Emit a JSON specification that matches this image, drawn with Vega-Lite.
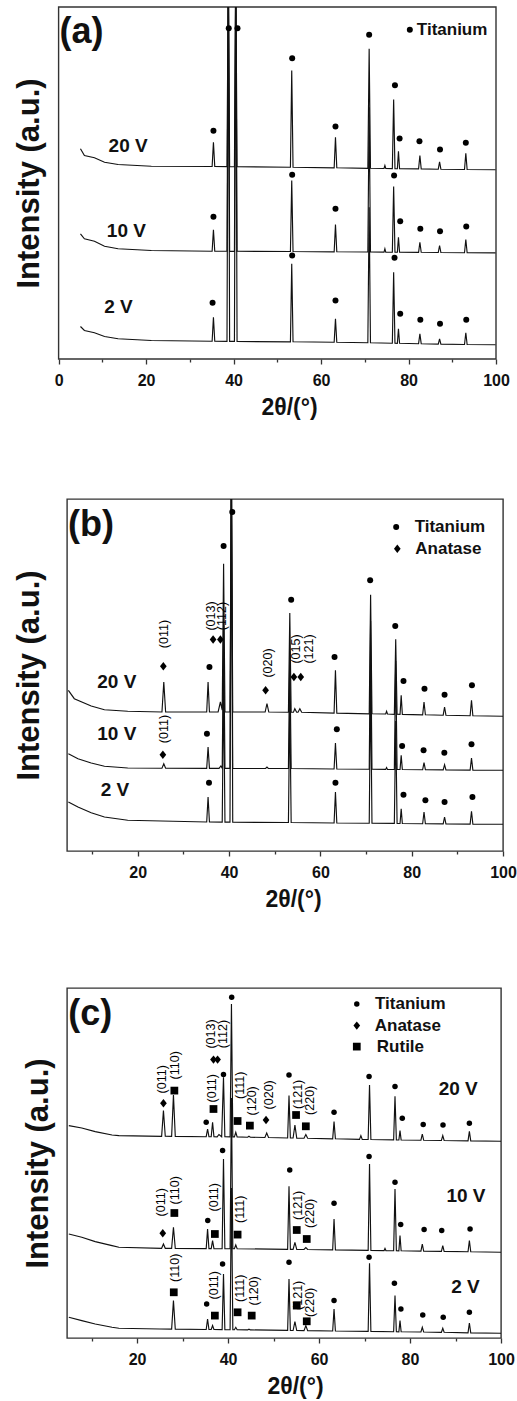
{
  "$schema": "https://vega.github.io/schema/vega-lite/v6.json",
  "padding": {"left": 12, "top": 6, "right": 5, "bottom": 5},
  "config": {
    "font": "Liberation Sans",
    "view": {"stroke": "#333", "strokeWidth": 1.4},
    "axis": {"labelFont": "Liberation Sans", "titleFont": "Liberation Sans"}
  },
  "datasets": {
    "A_line": [
      {"s":"20","x":5,"y":210.2},{"s":"20","x":5.9,"y":203.5},{"s":"20","x":8.2,"y":201.2},{"s":"20","x":10.5,"y":196.8},{"s":"20","x":13.6,"y":194.5},{"s":"20","x":21.2,"y":192.8},
      {"s":"20","x":35.1,"y":192.5},{"s":"20","x":35.4,"y":216.8},{"s":"20","x":35.7,"y":192.5},
      {"s":"20","x":38.5,"y":192.4},{"s":"20","x":38.8,"y":400},{"s":"20","x":39.1,"y":192.3},
      {"s":"20","x":40.2,"y":192.3},{"s":"20","x":40.5,"y":400},{"s":"20","x":40.8,"y":192.3},
      {"s":"20","x":53.0,"y":191.8},{"s":"20","x":53.3,"y":288.5},{"s":"20","x":53.6,"y":191.8},
      {"s":"20","x":63.0,"y":191.2},{"s":"20","x":63.3,"y":221.8},{"s":"20","x":63.6,"y":191.2},
      {"s":"20","x":70.7,"y":190.7},{"s":"20","x":71.0,"y":310.2},{"s":"20","x":71.3,"y":190.7},
      {"s":"20","x":74.4,"y":190.5},{"s":"20","x":74.6,"y":193.5},{"s":"20","x":74.8,"y":190.5},
      {"s":"20","x":76.3,"y":190.4},{"s":"20","x":76.6,"y":259.5},{"s":"20","x":76.9,"y":190.4},
      {"s":"20","x":77.45,"y":190.3},{"s":"20","x":77.7,"y":207.8},{"s":"20","x":77.95,"y":190.3},
      {"s":"20","x":82.3,"y":190.1},{"s":"20","x":82.6,"y":203.5},{"s":"20","x":82.9,"y":190.1},
      {"s":"20","x":86.8,"y":189.8},{"s":"20","x":87.1,"y":197.2},{"s":"20","x":87.4,"y":189.8},
      {"s":"20","x":92.8,"y":189.5},{"s":"20","x":93.1,"y":205.8},{"s":"20","x":93.4,"y":189.5},
      {"s":"20","x":99.9,"y":189.2},

      {"s":"10","x":5,"y":125.2},{"s":"10","x":5.9,"y":120.2},{"s":"10","x":8.2,"y":117.8},{"s":"10","x":10.5,"y":112.8},{"s":"10","x":13.6,"y":110.2},{"s":"10","x":21.2,"y":108.5},
      {"s":"10","x":35.1,"y":107.8},{"s":"10","x":35.4,"y":129.2},{"s":"10","x":35.7,"y":107.8},
      {"s":"10","x":38.5,"y":107.8},{"s":"10","x":38.8,"y":400},{"s":"10","x":39.1,"y":107.7},
      {"s":"10","x":40.2,"y":107.7},{"s":"10","x":40.5,"y":400},{"s":"10","x":40.8,"y":107.7},
      {"s":"10","x":53.0,"y":107.5},{"s":"10","x":53.3,"y":178.5},{"s":"10","x":53.6,"y":107.5},
      {"s":"10","x":63.0,"y":107.2},{"s":"10","x":63.3,"y":134.5},{"s":"10","x":63.6,"y":107.2},
      {"s":"10","x":70.7,"y":107},{"s":"10","x":71.0,"y":251.8},{"s":"10","x":71.3,"y":107},
      {"s":"10","x":74.4,"y":106.9},{"s":"10","x":74.6,"y":110.2},{"s":"10","x":74.8,"y":106.9},
      {"s":"10","x":76.3,"y":106.8},{"s":"10","x":76.6,"y":172.5},{"s":"10","x":76.9,"y":106.8},
      {"s":"10","x":77.45,"y":106.8},{"s":"10","x":77.7,"y":121.8},{"s":"10","x":77.95,"y":106.8},
      {"s":"10","x":82.3,"y":106.7},{"s":"10","x":82.6,"y":116.8},{"s":"10","x":82.9,"y":106.7},
      {"s":"10","x":86.8,"y":106.5},{"s":"10","x":87.1,"y":113.5},{"s":"10","x":87.4,"y":106.5},
      {"s":"10","x":92.8,"y":106.3},{"s":"10","x":93.1,"y":119.5},{"s":"10","x":93.4,"y":106.3},
      {"s":"10","x":99.9,"y":106.2},

      {"s":"2","x":5,"y":32.5},{"s":"2","x":5.9,"y":28.5},{"s":"2","x":8.2,"y":26.2},{"s":"2","x":10.5,"y":22.5},{"s":"2","x":13.6,"y":20.2},{"s":"2","x":21.2,"y":18.5},
      {"s":"2","x":35.1,"y":17.8},{"s":"2","x":35.4,"y":41.8},{"s":"2","x":35.7,"y":17.8},
      {"s":"2","x":38.5,"y":17.7},{"s":"2","x":38.8,"y":400},{"s":"2","x":39.1,"y":17.6},
      {"s":"2","x":40.2,"y":17.6},{"s":"2","x":40.5,"y":400},{"s":"2","x":40.8,"y":17.5},
      {"s":"2","x":53.0,"y":17.2},{"s":"2","x":53.3,"y":95.2},{"s":"2","x":53.6,"y":17.2},
      {"s":"2","x":63.0,"y":16.8},{"s":"2","x":63.3,"y":40.2},{"s":"2","x":63.6,"y":16.8},
      {"s":"2","x":70.7,"y":16.3},{"s":"2","x":71.0,"y":151.8},{"s":"2","x":71.3,"y":16.3},
      {"s":"2","x":76.3,"y":15.8},{"s":"2","x":76.6,"y":86.8},{"s":"2","x":76.9,"y":15.8},
      {"s":"2","x":77.45,"y":15.7},{"s":"2","x":77.7,"y":30.2},{"s":"2","x":77.95,"y":15.7},
      {"s":"2","x":82.3,"y":15.3},{"s":"2","x":82.6,"y":25.2},{"s":"2","x":82.9,"y":15.3},
      {"s":"2","x":86.8,"y":14.9},{"s":"2","x":87.1,"y":20.2},{"s":"2","x":87.4,"y":14.9},
      {"s":"2","x":92.8,"y":14.5},{"s":"2","x":93.1,"y":26.2},{"s":"2","x":93.4,"y":14.5},
      {"s":"2","x":99.9,"y":14.2}
    ],
    "A_mark": [
      {"t":"o","x":35.4,"y":228.2},{"t":"o","x":38.9,"y":330.8},{"t":"o","x":40.9,"y":330.8},{"t":"o","x":53.4,"y":300.8},{"t":"o","x":63.3,"y":232.5},{"t":"o","x":71.0,"y":324.2},{"t":"o","x":76.9,"y":273.8},{"t":"o","x":77.96,"y":220.5},{"t":"o","x":82.5,"y":217.8},{"t":"o","x":87.2,"y":209.5},{"t":"o","x":93.1,"y":216.2},
      {"t":"o","x":35.4,"y":142.2},{"t":"o","x":53.4,"y":184.2},{"t":"o","x":63.3,"y":150.2},{"t":"o","x":76.7,"y":183.5},{"t":"o","x":78.1,"y":137.8},{"t":"o","x":82.7,"y":130.2},{"t":"o","x":87.2,"y":127.8},{"t":"o","x":93.2,"y":132.5},
      {"t":"o","x":35.2,"y":56.2},{"t":"o","x":53.4,"y":103.5},{"t":"o","x":63.3,"y":58.5},{"t":"o","x":76.8,"y":101.2},{"t":"o","x":78.1,"y":45.2},{"t":"o","x":82.7,"y":39.2},{"t":"o","x":87.2,"y":35.2},{"t":"o","x":93.2,"y":39.2},
      {"t":"o","x":80.3,"y":329.2}
    ],
    "A_text": [
      {"g":"v","x":15.9,"y":213.5,"l":"20 V"},{"g":"v","x":15.5,"y":128.5,"l":"10 V"},{"g":"v","x":13.7,"y":51.8,"l":"2 V"},
      {"g":"p","x":0.2,"y":327.5,"l":"(a)"},
      {"g":"l","x":81.9,"y":329.2,"l":"Titanium"}
    ],
    "A_frame": [{"x":0,"x2":100,"y":0,"y2":352}],
    "B_line": [
      {"s":"20","x":4.8,"y":160.7},{"s":"20","x":6.1,"y":152.3},{"s":"20","x":9.8,"y":145},{"s":"20","x":12.7,"y":141.3},{"s":"20","x":17.8,"y":139.7},
      {"s":"20","x":25.3,"y":139},{"s":"20","x":25.7,"y":169},{"s":"20","x":26.1,"y":139},
      {"s":"20","x":35.1,"y":139},{"s":"20","x":35.4,"y":169},{"s":"20","x":35.7,"y":139},
      {"s":"20","x":37.6,"y":139},{"s":"20","x":38.1,"y":149},{"s":"20","x":38.5,"y":141},{"s":"20","x":38.8,"y":287.3},{"s":"20","x":39.1,"y":139},
      {"s":"20","x":40.2,"y":139},{"s":"20","x":40.5,"y":400},{"s":"20","x":40.8,"y":139},
      {"s":"20","x":47.9,"y":139},{"s":"20","x":48.3,"y":147.3},{"s":"20","x":48.7,"y":139},
      {"s":"20","x":53.0,"y":138.8},{"s":"20","x":53.3,"y":238},{"s":"20","x":53.6,"y":138.8},
      {"s":"20","x":54.1,"y":138.8},{"s":"20","x":54.4,"y":142.3},{"s":"20","x":54.8,"y":138.8},{"s":"20","x":55.1,"y":138.8},{"s":"20","x":55.5,"y":142.3},{"s":"20","x":55.9,"y":138.7},
      {"s":"20","x":63.0,"y":137.9},{"s":"20","x":63.3,"y":180.7},{"s":"20","x":63.6,"y":137.9},
      {"s":"20","x":70.7,"y":137.2},{"s":"20","x":71.0,"y":256.3},{"s":"20","x":71.3,"y":137.2},
      {"s":"20","x":74.3,"y":137},{"s":"20","x":74.5,"y":139.7},{"s":"20","x":74.7,"y":137},
      {"s":"20","x":76.2,"y":136.7},{"s":"20","x":76.5,"y":211.7},{"s":"20","x":76.8,"y":136.7},
      {"s":"20","x":77.45,"y":136.6},{"s":"20","x":77.7,"y":155.7},{"s":"20","x":77.95,"y":136.6},
      {"s":"20","x":82.4,"y":136.2},{"s":"20","x":82.7,"y":149},{"s":"20","x":83.0,"y":136.2},
      {"s":"20","x":86.9,"y":135.8},{"s":"20","x":87.2,"y":144},{"s":"20","x":87.5,"y":135.8},
      {"s":"20","x":92.8,"y":135.3},{"s":"20","x":93.1,"y":150.7},{"s":"20","x":93.4,"y":135.3},
      {"s":"20","x":100,"y":134.7},

      {"s":"10","x":4.8,"y":97.3},{"s":"10","x":6.9,"y":92.3},{"s":"10","x":9.8,"y":88},{"s":"10","x":12.7,"y":84.7},{"s":"10","x":17.8,"y":83},
      {"s":"10","x":25.3,"y":82.8},{"s":"10","x":25.7,"y":87.3},{"s":"10","x":26.1,"y":82.8},
      {"s":"10","x":35.1,"y":82.7},{"s":"10","x":35.4,"y":104},{"s":"10","x":35.7,"y":82.7},
      {"s":"10","x":37.8,"y":82.7},{"s":"10","x":38.2,"y":85},{"s":"10","x":38.5,"y":82.7},{"s":"10","x":38.8,"y":225},{"s":"10","x":39.1,"y":82.6},
      {"s":"10","x":40.2,"y":82.6},{"s":"10","x":40.5,"y":400},{"s":"10","x":40.8,"y":82.6},
      {"s":"10","x":48.0,"y":82.5},{"s":"10","x":48.3,"y":84},{"s":"10","x":48.6,"y":82.5},
      {"s":"10","x":53.0,"y":82.5},{"s":"10","x":53.3,"y":200},{"s":"10","x":53.6,"y":82.5},
      {"s":"10","x":63.0,"y":82.0},{"s":"10","x":63.3,"y":108},{"s":"10","x":63.6,"y":82.0},
      {"s":"10","x":70.7,"y":81.8},{"s":"10","x":71.0,"y":230},{"s":"10","x":71.3,"y":81.8},
      {"s":"10","x":74.3,"y":81.6},{"s":"10","x":74.5,"y":83.5},{"s":"10","x":74.7,"y":81.6},
      {"s":"10","x":76.2,"y":81.5},{"s":"10","x":76.5,"y":190},{"s":"10","x":76.8,"y":81.5},
      {"s":"10","x":77.45,"y":81.5},{"s":"10","x":77.7,"y":95.7},{"s":"10","x":77.95,"y":81.5},
      {"s":"10","x":82.4,"y":81.3},{"s":"10","x":82.7,"y":88.3},{"s":"10","x":83.0,"y":81.3},
      {"s":"10","x":86.9,"y":81.1},{"s":"10","x":87.2,"y":86.3},{"s":"10","x":87.5,"y":81.1},
      {"s":"10","x":92.8,"y":80.9},{"s":"10","x":93.1,"y":93},{"s":"10","x":93.4,"y":80.9},
      {"s":"10","x":100,"y":80.7},

      {"s":"2","x":4.8,"y":49},{"s":"2","x":6.9,"y":44},{"s":"2","x":9.8,"y":38.3},{"s":"2","x":12.7,"y":34},{"s":"2","x":17.8,"y":30.7},
      {"s":"2","x":35.1,"y":29},{"s":"2","x":35.4,"y":54},{"s":"2","x":35.7,"y":29},
      {"s":"2","x":38.5,"y":28.9},{"s":"2","x":38.8,"y":170},{"s":"2","x":39.1,"y":28.9},
      {"s":"2","x":40.2,"y":28.9},{"s":"2","x":40.5,"y":400},{"s":"2","x":40.8,"y":28.8},
      {"s":"2","x":53.0,"y":28.5},{"s":"2","x":53.3,"y":150},{"s":"2","x":53.6,"y":28.5},
      {"s":"2","x":63.0,"y":28.0},{"s":"2","x":63.3,"y":59},{"s":"2","x":63.6,"y":28.0},
      {"s":"2","x":70.7,"y":27.8},{"s":"2","x":71.0,"y":170},{"s":"2","x":71.3,"y":27.8},
      {"s":"2","x":76.2,"y":27.6},{"s":"2","x":76.5,"y":130},{"s":"2","x":76.8,"y":27.6},
      {"s":"2","x":77.45,"y":27.5},{"s":"2","x":77.7,"y":42.3},{"s":"2","x":77.95,"y":27.5},
      {"s":"2","x":82.4,"y":27.3},{"s":"2","x":82.7,"y":39},{"s":"2","x":83.0,"y":27.3},
      {"s":"2","x":86.9,"y":27.1},{"s":"2","x":87.2,"y":34},{"s":"2","x":87.5,"y":27.1},
      {"s":"2","x":92.8,"y":26.9},{"s":"2","x":93.1,"y":39.7},{"s":"2","x":93.4,"y":26.9},
      {"s":"2","x":100,"y":26.7}
    ],
    "B_mark": [
      {"t":"o","x":35.7,"y":184},{"t":"o","x":38.8,"y":305},{"t":"o","x":40.7,"y":339},{"t":"o","x":53.6,"y":251.3},{"t":"o","x":63.1,"y":194},{"t":"o","x":70.9,"y":270.7},{"t":"o","x":76.4,"y":225},{"t":"o","x":78.2,"y":170},{"t":"o","x":82.8,"y":162.3},{"t":"o","x":87.2,"y":156.3},{"t":"o","x":93.2,"y":165.7},
      {"t":"d","x":25.6,"y":184.7},{"t":"d","x":36.5,"y":211.5},{"t":"d","x":38.1,"y":211.5},{"t":"d","x":48.0,"y":160.7},{"t":"d","x":54.2,"y":174},{"t":"d","x":55.7,"y":174},
      {"t":"o","x":35.15,"y":117.3},{"t":"o","x":63.6,"y":121.7},{"t":"o","x":77.9,"y":105},{"t":"o","x":82.6,"y":100.7},{"t":"o","x":87.15,"y":98.3},{"t":"o","x":93.1,"y":106.7},
      {"t":"d","x":25.5,"y":96.3},
      {"t":"o","x":35.6,"y":68.3},{"t":"o","x":63.3,"y":68.3},{"t":"o","x":78.2,"y":56.3},{"t":"o","x":83.0,"y":50.7},{"t":"o","x":87.2,"y":49},{"t":"o","x":93.3,"y":54},
      {"t":"o","x":76.6,"y":324},{"t":"d","x":76.85,"y":302.3}
    ],
    "B_text": [
      {"g":"v","x":15.4,"y":169,"l":"20 V"},{"g":"v","x":15.4,"y":117.3,"l":"10 V"},{"g":"v","x":15.0,"y":60.7,"l":"2 V"},
      {"g":"p","x":4.7,"y":326,"l":"(b)"},
      {"g":"l","x":80.65,"y":324,"l":"Titanium"},{"g":"l","x":80.8,"y":302.3,"l":"Anatase"},
      {"g":"h","x":25.7,"y":217,"l":"(011)"},{"g":"h","x":35.95,"y":235,"l":"(013)"},{"g":"h","x":38.45,"y":235,"l":"(112)"},{"g":"h","x":48.5,"y":188,"l":"(020)"},{"g":"h","x":54.6,"y":202,"l":"(015)"},{"g":"h","x":57.5,"y":202,"l":"(121)"},{"g":"h","x":25.8,"y":122,"l":"(011)"}
    ],
    "C_line": [
      {"s":"20","x":5.0,"y":212.4},{"s":"20","x":7.85,"y":210},{"s":"20","x":10.8,"y":206.4},{"s":"20","x":14.5,"y":203},{"s":"20","x":16,"y":202.4},
      {"s":"20","x":25.4,"y":201.7},{"s":"20","x":25.8,"y":227.4},{"s":"20","x":26.2,"y":201.7},
      {"s":"20","x":27.6,"y":201.6},{"s":"20","x":28.0,"y":243},{"s":"20","x":28.4,"y":201.6},
      {"s":"20","x":35.2,"y":201.3},{"s":"20","x":35.5,"y":209},{"s":"20","x":35.8,"y":201.3},
      {"s":"20","x":36.3,"y":201.3},{"s":"20","x":36.6,"y":215.7},{"s":"20","x":36.9,"y":201.3},
      {"s":"20","x":37.6,"y":201.2},{"s":"20","x":38.0,"y":203.5},{"s":"20","x":38.6,"y":201.2},{"s":"20","x":39.0,"y":260.7},{"s":"20","x":39.3,"y":201.2},
      {"s":"20","x":40.45,"y":201.1},{"s":"20","x":40.75,"y":334},{"s":"20","x":41.05,"y":201.1},
      {"s":"20","x":41.4,"y":201.1},{"s":"20","x":41.7,"y":205.7},{"s":"20","x":42.0,"y":201.1},
      {"s":"20","x":44.3,"y":200.8},{"s":"20","x":44.6,"y":201.8},{"s":"20","x":44.9,"y":200.8},
      {"s":"20","x":48.1,"y":200.5},{"s":"20","x":48.5,"y":205},{"s":"20","x":48.9,"y":200.5},
      {"s":"20","x":53.1,"y":200},{"s":"20","x":53.4,"y":242.4},{"s":"20","x":53.7,"y":200},
      {"s":"20","x":54.3,"y":200},{"s":"20","x":54.7,"y":213},{"s":"20","x":55.1,"y":199.9},
      {"s":"20","x":56.7,"y":199.8},{"s":"20","x":57.1,"y":203.4},{"s":"20","x":57.5,"y":199.7},
      {"s":"20","x":63.0,"y":199.2},{"s":"20","x":63.3,"y":216.4},{"s":"20","x":63.6,"y":199.2},
      {"s":"20","x":68.9,"y":198.6},{"s":"20","x":69.2,"y":202.4},{"s":"20","x":69.5,"y":198.6},
      {"s":"20","x":70.8,"y":198.5},{"s":"20","x":71.1,"y":253},{"s":"20","x":71.4,"y":198.5},
      {"s":"20","x":76.4,"y":198.1},{"s":"20","x":76.7,"y":241.7},{"s":"20","x":77.0,"y":198.1},
      {"s":"20","x":77.55,"y":198},{"s":"20","x":77.8,"y":207.4},{"s":"20","x":78.05,"y":198},
      {"s":"20","x":82.4,"y":197.8},{"s":"20","x":82.7,"y":204},{"s":"20","x":83.0,"y":197.8},
      {"s":"20","x":86.9,"y":197.5},{"s":"20","x":87.2,"y":202.4},{"s":"20","x":87.5,"y":197.5},
      {"s":"20","x":92.75,"y":197.1},{"s":"20","x":93.05,"y":206.7},{"s":"20","x":93.35,"y":197.1},
      {"s":"20","x":100,"y":196.7},

      {"s":"10","x":5.0,"y":104},{"s":"10","x":7.85,"y":100.7},{"s":"10","x":10.8,"y":96.4},{"s":"10","x":14.5,"y":92.4},{"s":"10","x":16,"y":90.7},
      {"s":"10","x":25.4,"y":89.7},{"s":"10","x":25.8,"y":94},{"s":"10","x":26.2,"y":89.7},
      {"s":"10","x":27.6,"y":89.7},{"s":"10","x":28.0,"y":110.7},{"s":"10","x":28.4,"y":89.6},
      {"s":"10","x":35.2,"y":89.4},{"s":"10","x":35.5,"y":109},{"s":"10","x":35.8,"y":89.4},
      {"s":"10","x":36.3,"y":89.4},{"s":"10","x":36.6,"y":97.4},{"s":"10","x":36.9,"y":89.4},
      {"s":"10","x":38.7,"y":89.3},{"s":"10","x":39.0,"y":179},{"s":"10","x":39.3,"y":89.3},
      {"s":"10","x":40.45,"y":89.3},{"s":"10","x":40.75,"y":240},{"s":"10","x":41.05,"y":89.3},
      {"s":"10","x":41.4,"y":89.3},{"s":"10","x":41.7,"y":93},{"s":"10","x":42.0,"y":89.3},
      {"s":"10","x":53.1,"y":88.6},{"s":"10","x":53.4,"y":151.7},{"s":"10","x":53.7,"y":88.6},
      {"s":"10","x":54.3,"y":88.6},{"s":"10","x":54.7,"y":95.7},{"s":"10","x":55.1,"y":88.6},
      {"s":"10","x":56.7,"y":88.5},{"s":"10","x":57.1,"y":90.5},{"s":"10","x":57.5,"y":88.5},
      {"s":"10","x":63.0,"y":88.1},{"s":"10","x":63.3,"y":119},{"s":"10","x":63.6,"y":88.1},
      {"s":"10","x":70.8,"y":87.6},{"s":"10","x":71.1,"y":174},{"s":"10","x":71.4,"y":87.6},
      {"s":"10","x":74.3,"y":87.4},{"s":"10","x":74.5,"y":89.5},{"s":"10","x":74.7,"y":87.4},
      {"s":"10","x":76.4,"y":87.3},{"s":"10","x":76.7,"y":149},{"s":"10","x":77.0,"y":87.3},
      {"s":"10","x":77.55,"y":87.2},{"s":"10","x":77.8,"y":102.4},{"s":"10","x":78.05,"y":87.2},
      {"s":"10","x":82.4,"y":86.9},{"s":"10","x":82.7,"y":94},{"s":"10","x":83.0,"y":86.9},
      {"s":"10","x":86.9,"y":86.6},{"s":"10","x":87.2,"y":92.4},{"s":"10","x":87.5,"y":86.6},
      {"s":"10","x":92.75,"y":86.3},{"s":"10","x":93.05,"y":97.4},{"s":"10","x":93.35,"y":86.3},
      {"s":"10","x":100,"y":85.7},

      {"s":"2","x":5.0,"y":20.7},{"s":"2","x":7.85,"y":17.4},{"s":"2","x":10.8,"y":14},{"s":"2","x":14.5,"y":10.7},{"s":"2","x":16,"y":9.7},{"s":"2","x":25,"y":9},
      {"s":"2","x":27.6,"y":8.9},{"s":"2","x":28.0,"y":37.4},{"s":"2","x":28.4,"y":8.9},
      {"s":"2","x":35.2,"y":8.5},{"s":"2","x":35.5,"y":19},{"s":"2","x":35.8,"y":8.5},
      {"s":"2","x":36.3,"y":8.5},{"s":"2","x":36.6,"y":12.4},{"s":"2","x":36.9,"y":8.5},
      {"s":"2","x":38.7,"y":8.4},{"s":"2","x":39.0,"y":64},{"s":"2","x":39.3,"y":8.4},
      {"s":"2","x":40.45,"y":8.3},{"s":"2","x":40.75,"y":150},{"s":"2","x":41.05,"y":8.3},
      {"s":"2","x":41.4,"y":8.3},{"s":"2","x":41.7,"y":10.7},{"s":"2","x":42.0,"y":8.3},
      {"s":"2","x":44.3,"y":8.1},{"s":"2","x":44.6,"y":8.8},{"s":"2","x":44.9,"y":8.1},
      {"s":"2","x":53.1,"y":7.6},{"s":"2","x":53.4,"y":59},{"s":"2","x":53.7,"y":7.6},
      {"s":"2","x":54.3,"y":7.5},{"s":"2","x":54.7,"y":16.4},{"s":"2","x":55.1,"y":7.5},
      {"s":"2","x":56.7,"y":7.4},{"s":"2","x":57.1,"y":12.4},{"s":"2","x":57.5,"y":7.4},
      {"s":"2","x":63.0,"y":7},{"s":"2","x":63.3,"y":29},{"s":"2","x":63.6,"y":7},
      {"s":"2","x":70.8,"y":6.6},{"s":"2","x":71.1,"y":74.7},{"s":"2","x":71.4,"y":6.6},
      {"s":"2","x":76.4,"y":6.3},{"s":"2","x":76.7,"y":42.4},{"s":"2","x":77.0,"y":6.3},
      {"s":"2","x":77.55,"y":6.2},{"s":"2","x":77.8,"y":17.4},{"s":"2","x":78.05,"y":6.2},
      {"s":"2","x":82.4,"y":6},{"s":"2","x":82.7,"y":10.7},{"s":"2","x":83.0,"y":6},
      {"s":"2","x":86.9,"y":5.7},{"s":"2","x":87.2,"y":9.7},{"s":"2","x":87.5,"y":5.7},
      {"s":"2","x":92.75,"y":5.1},{"s":"2","x":93.05,"y":15},{"s":"2","x":93.35,"y":5.1},
      {"s":"2","x":100,"y":4.7}
    ],
    "C_mark": [
      {"t":"o","x":35.2,"y":215.7},{"t":"o","x":39.0,"y":263.4},{"t":"o","x":40.8,"y":340.7},{"t":"o","x":53.4,"y":263},{"t":"o","x":63.3,"y":225.7},{"t":"o","x":71.0,"y":261.4},{"t":"o","x":76.7,"y":251.4},{"t":"o","x":78.3,"y":219.7},{"t":"o","x":82.9,"y":213.4},{"t":"o","x":87.25,"y":213},{"t":"o","x":93.05,"y":214.7},
      {"t":"d","x":25.8,"y":234.7},{"t":"d","x":36.8,"y":278.4},{"t":"d","x":37.7,"y":278.4},{"t":"d","x":48.35,"y":218},
      {"t":"q","x":28.2,"y":247.4},{"t":"q","x":36.8,"y":229},{"t":"q","x":42.1,"y":217},{"t":"q","x":44.8,"y":212.4},{"t":"q","x":54.95,"y":223},{"t":"q","x":57.1,"y":211.7},
      {"t":"o","x":35.54,"y":117.4},{"t":"o","x":38.8,"y":187.4},{"t":"o","x":53.56,"y":168},{"t":"o","x":63.3,"y":134.7},{"t":"o","x":71.0,"y":181.4},{"t":"o","x":76.7,"y":155.7},{"t":"o","x":77.95,"y":113.4},{"t":"o","x":83.1,"y":108.4},{"t":"o","x":86.97,"y":107.4},{"t":"o","x":93.2,"y":109},
      {"t":"d","x":25.65,"y":104.7},
      {"t":"q","x":28.2,"y":125},{"t":"q","x":37.1,"y":104},{"t":"q","x":42.1,"y":103.4},{"t":"q","x":55.1,"y":108},{"t":"q","x":57.3,"y":99},
      {"t":"o","x":35.3,"y":34},{"t":"o","x":38.8,"y":74},{"t":"o","x":53.4,"y":75.7},{"t":"o","x":63.3,"y":37.4},{"t":"o","x":71.0,"y":80.7},{"t":"o","x":76.57,"y":54.7},{"t":"o","x":78.0,"y":29},{"t":"o","x":82.8,"y":23},{"t":"o","x":87.3,"y":20.7},{"t":"o","x":93.05,"y":25.7},
      {"t":"q","x":28.07,"y":45.7},{"t":"q","x":37.1,"y":22.4},{"t":"q","x":42.1,"y":25.7},{"t":"q","x":45.2,"y":22.4},{"t":"q","x":55.1,"y":32.4},{"t":"q","x":57.3,"y":16.7},
      {"t":"o","x":68.3,"y":334},{"t":"d","x":68.3,"y":312.4},{"t":"q","x":68.3,"y":291.4}
    ],
    "C_text": [
      {"g":"v","x":90.6,"y":249,"l":"20 V"},{"g":"v","x":92.3,"y":142.4,"l":"10 V"},{"g":"v","x":92.2,"y":50.7,"l":"2 V"},
      {"g":"p","x":4.9,"y":323.7,"l":"(c)"},
      {"g":"l","x":72.3,"y":334,"l":"Titanium"},{"g":"l","x":72.25,"y":312.4,"l":"Anatase"},{"g":"l","x":72.7,"y":291.4,"l":"Rutile"},
      {"g":"h","x":25.4,"y":258.7,"l":"(011)"},{"g":"h","x":28.4,"y":272.7,"l":"(110)"},{"g":"h","x":36.4,"y":249.7,"l":"(011)"},{"g":"h","x":36.3,"y":304,"l":"(013)"},{"g":"h","x":39.0,"y":304,"l":"(112)"},{"g":"h","x":42.6,"y":252.7,"l":"(111)"},{"g":"h","x":45.2,"y":237.2,"l":"(120)"},{"g":"h","x":48.9,"y":243.2,"l":"(020)"},{"g":"h","x":55.3,"y":243.7,"l":"(121)"},{"g":"h","x":57.95,"y":237.7,"l":"(220)"},
      {"g":"h","x":25.2,"y":135.7,"l":"(011)"},{"g":"h","x":28.35,"y":147.7,"l":"(110)"},{"g":"h","x":37.0,"y":140.7,"l":"(011)"},{"g":"h","x":42.6,"y":128.7,"l":"(111)"},{"g":"h","x":55.3,"y":132.7,"l":"(121)"},{"g":"h","x":58.0,"y":124.7,"l":"(220)"},
      {"g":"h","x":28.35,"y":70.2,"l":"(110)"},{"g":"h","x":36.9,"y":52.7,"l":"(011)"},{"g":"h","x":42.6,"y":49.7,"l":"(111)"},{"g":"h","x":45.6,"y":47.2,"l":"(120)"},{"g":"h","x":55.3,"y":42.7,"l":"(121)"},{"g":"h","x":58.0,"y":35.7,"l":"(220)"}
    ]
  },
  "concat": [
    {
      "width": 429, "height": 352,
      "view": {"stroke": null},
      "encoding": {
        "x": {"field": "x", "type": "quantitative", "scale": {"domain": [0, 100], "range": [-8.4, 429], "nice": false, "zero": false},
          "axis": {"values": [0,10,20,30,40,50,60,70,80,90,100], "labelExpr": "datum.value % 20 === 0 ? datum.label : ''",
            "tickSize": {"condition": {"test": "datum.value % 20 === 0", "value": 5}, "value": 3},
            "tickColor": "#333", "tickWidth": 1.3, "domain": false, "grid": false, "labelFontSize": 16, "labelFontWeight": "bold", "labelColor": "#111", "labelPadding": 8, "labelFlush": false,
            "title": "2θ/(°)", "titleFontSize": 23, "titleFontWeight": "bold", "titleColor": "#111", "titlePadding": 8, "titleX": 222}},
        "y": {"field": "y", "type": "quantitative", "scale": {"domain": [0, 352], "nice": false, "zero": false},
          "axis": {"title": "Intensity (a.u.)", "labels": false, "ticks": false, "domain": false, "grid": false, "titleFontSize": 31, "titleFontWeight": "bold", "titleColor": "#111", "titlePadding": 21.7}}
      },
      "layer": [
        {"data": {"name": "A_frame"}, "mark": {"type": "rect", "filled": false, "stroke": "#333", "strokeWidth": 1.4, "clip": false}, "encoding": {"x2": {"field": "x2"}, "y2": {"field": "y2"}}},
        {"data": {"name": "A_line"}, "mark": {"type": "line", "clip": true, "color": "#111", "strokeWidth": 1.15}, "encoding": {"detail": {"field": "s"}}},
        {"data": {"name": "A_mark"}, "transform": [{"filter": "datum.t === 'o'"}], "mark": {"type": "point", "shape": "circle", "filled": true, "size": 36, "color": "#000", "opacity": 1}},
        {"data": {"name": "A_text"}, "transform": [{"filter": "datum.g === 'v'"}], "mark": {"type": "text", "fontSize": 19, "fontWeight": "bold", "align": "center", "baseline": "middle", "color": "#111"}, "encoding": {"text": {"field": "l"}}},
        {"data": {"name": "A_text"}, "transform": [{"filter": "datum.g === 'p'"}], "mark": {"type": "text", "fontSize": 36, "fontWeight": "bold", "align": "left", "baseline": "middle", "color": "#111"}, "encoding": {"text": {"field": "l"}}},
        {"data": {"name": "A_text"}, "transform": [{"filter": "datum.g === 'l'"}], "mark": {"type": "text", "fontSize": 17, "fontWeight": "bold", "align": "left", "baseline": "middle", "color": "#111"}, "encoding": {"text": {"field": "l"}}}
      ]
    },
    {
      "concat": [
        {
          "width": 436, "height": 352,
          "encoding": {
            "x": {"field": "x", "type": "quantitative", "scale": {"domain": [4.5, 100], "nice": false, "zero": false},
              "axis": {"values": [10,20,30,40,50,60,70,80,90,100], "labelExpr": "datum.value % 20 === 0 ? datum.label : ''",
                "tickSize": {"condition": {"test": "datum.value % 20 === 0", "value": 5}, "value": 3},
                "tickColor": "#333", "tickWidth": 1.3, "domain": false, "grid": false, "labelFontSize": 16, "labelFontWeight": "bold", "labelColor": "#111", "labelPadding": 8, "labelFlush": false,
                "title": "2θ/(°)", "titleFontSize": 23, "titleFontWeight": "bold", "titleColor": "#111", "titlePadding": 8, "titleX": 226}},
            "y": {"field": "y", "type": "quantitative", "scale": {"domain": [0, 352], "nice": false, "zero": false},
              "axis": {"title": "Intensity (a.u.)", "labels": false, "ticks": false, "domain": false, "grid": false, "titleFontSize": 31, "titleFontWeight": "bold", "titleColor": "#111", "titlePadding": 21.7}}
          },
          "layer": [
            {"data": {"name": "B_line"}, "mark": {"type": "line", "clip": true, "color": "#111", "strokeWidth": 1.15}, "encoding": {"detail": {"field": "s"}}},
            {"data": {"name": "B_mark"}, "transform": [{"filter": "datum.t === 'o'"}], "mark": {"type": "point", "shape": "circle", "filled": true, "size": 36, "color": "#000", "opacity": 1}},
            {"data": {"name": "B_mark"}, "transform": [{"filter": "datum.t === 'd'"}], "mark": {"type": "point", "shape": "M0,-1L0.8,0L0,1L-0.8,0Z", "filled": true, "size": 70, "color": "#000", "opacity": 1}},
            {"data": {"name": "B_text"}, "transform": [{"filter": "datum.g === 'v'"}], "mark": {"type": "text", "fontSize": 19, "fontWeight": "bold", "align": "center", "baseline": "middle", "color": "#111"}, "encoding": {"text": {"field": "l"}}},
            {"data": {"name": "B_text"}, "transform": [{"filter": "datum.g === 'p'"}], "mark": {"type": "text", "fontSize": 36, "fontWeight": "bold", "align": "left", "baseline": "middle", "color": "#111"}, "encoding": {"text": {"field": "l"}}},
            {"data": {"name": "B_text"}, "transform": [{"filter": "datum.g === 'l'"}], "mark": {"type": "text", "fontSize": 17, "fontWeight": "bold", "align": "left", "baseline": "middle", "color": "#111"}, "encoding": {"text": {"field": "l"}}},
            {"data": {"name": "B_text"}, "transform": [{"filter": "datum.g === 'h'"}], "mark": {"type": "text", "fontSize": 12.5, "angle": 270, "align": "center", "baseline": "middle", "color": "#000"}, "encoding": {"text": {"field": "l"}}}
          ]
        },
        {
          "width": 434, "height": 350,
          "encoding": {
            "x": {"field": "x", "type": "quantitative", "scale": {"domain": [4.6, 100], "nice": false, "zero": false},
              "axis": {"values": [10,20,30,40,50,60,70,80,90,100], "labelExpr": "datum.value % 20 === 0 ? datum.label : ''",
                "tickSize": {"condition": {"test": "datum.value % 20 === 0", "value": 5}, "value": 3},
                "tickColor": "#333", "tickWidth": 1.3, "domain": false, "grid": false, "labelFontSize": 16, "labelFontWeight": "bold", "labelColor": "#111", "labelPadding": 8, "labelFlush": false,
                "title": "2θ/(°)", "titleFontSize": 23, "titleFontWeight": "bold", "titleColor": "#111", "titlePadding": 8, "titleX": 228}},
            "y": {"field": "y", "type": "quantitative", "scale": {"domain": [0, 350], "nice": false, "zero": false},
              "axis": {"title": "Intensity (a.u.)", "labels": false, "ticks": false, "domain": false, "grid": false, "titleFontSize": 31, "titleFontWeight": "bold", "titleColor": "#111", "titlePadding": 12.7}}
          },
          "layer": [
            {"data": {"name": "C_line"}, "mark": {"type": "line", "clip": true, "color": "#111", "strokeWidth": 1.15}, "encoding": {"detail": {"field": "s"}}},
            {"data": {"name": "C_mark"}, "transform": [{"filter": "datum.t === 'o'"}], "mark": {"type": "point", "shape": "circle", "filled": true, "size": 30, "color": "#000", "opacity": 1}},
            {"data": {"name": "C_mark"}, "transform": [{"filter": "datum.t === 'd'"}], "mark": {"type": "point", "shape": "M0,-1L0.8,0L0,1L-0.8,0Z", "filled": true, "size": 70, "color": "#000", "opacity": 1}},
            {"data": {"name": "C_mark"}, "transform": [{"filter": "datum.t === 'q'"}], "mark": {"type": "point", "shape": "square", "filled": true, "size": 60, "color": "#000", "opacity": 1}},
            {"data": {"name": "C_text"}, "transform": [{"filter": "datum.g === 'v'"}], "mark": {"type": "text", "fontSize": 19, "fontWeight": "bold", "align": "center", "baseline": "middle", "color": "#111"}, "encoding": {"text": {"field": "l"}}},
            {"data": {"name": "C_text"}, "transform": [{"filter": "datum.g === 'p'"}], "mark": {"type": "text", "fontSize": 36, "fontWeight": "bold", "align": "left", "baseline": "middle", "color": "#111"}, "encoding": {"text": {"field": "l"}}},
            {"data": {"name": "C_text"}, "transform": [{"filter": "datum.g === 'l'"}], "mark": {"type": "text", "fontSize": 17, "fontWeight": "bold", "align": "left", "baseline": "middle", "color": "#111"}, "encoding": {"text": {"field": "l"}}},
            {"data": {"name": "C_text"}, "transform": [{"filter": "datum.g === 'h'"}], "mark": {"type": "text", "fontSize": 12.5, "angle": 270, "align": "center", "baseline": "middle", "color": "#000"}, "encoding": {"text": {"field": "l"}}}
          ]
        }
      ],
      "columns": 1,
      "spacing": 75
    }
  ],
  "columns": 1,
  "spacing": 79
}
